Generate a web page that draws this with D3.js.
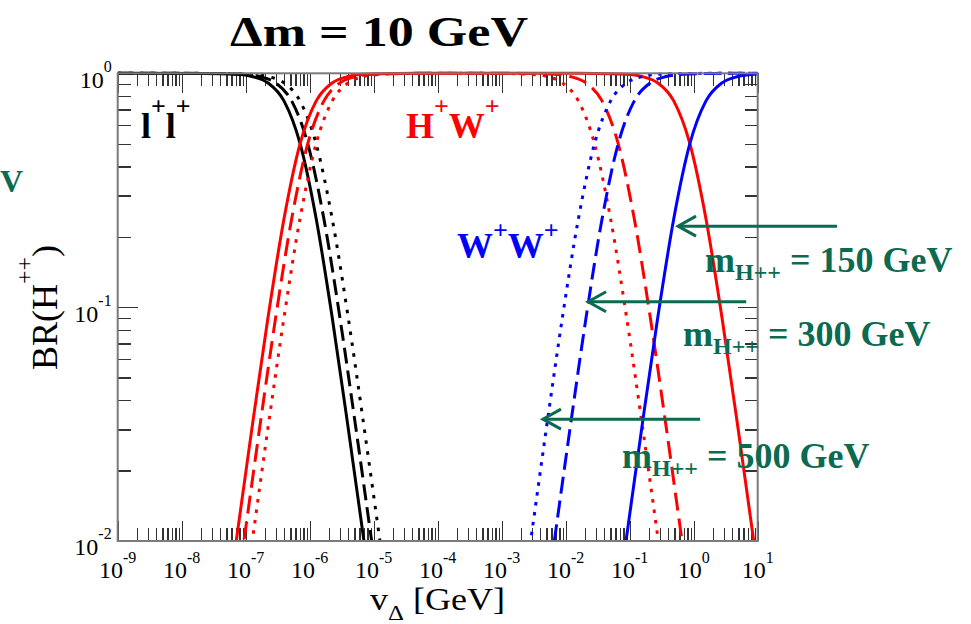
<html lang="en">
<head>
<meta charset="utf-8">
<title>BR(H++) vs v_Delta</title>
<style>
  body { margin: 0; background: white; }
  svg { background: white; font-family: "Liberation Serif", "Times New Roman", serif; }
  .tick line { stroke: #333; stroke-width: 1.3; shape-rendering: crispEdges; }
  .domain { display: none; }
  .curve { fill: none; stroke-width: 3; }
  .green { fill: #0b6a50; font-weight: bold; }
</style>
</head>
<body>
<script src="https://cdnjs.cloudflare.com/ajax/libs/d3/7.8.5/d3.min.js"></script>
<script>
// x tick exponents (v in GeV), y tick exponents (BR)
var xExps = [-9, -8, -7, -6, -5, -4, -3, -2, -1, 0, 1];
var yExps = [-2, -1, 0];

// curves: [log10(v), BR]
// m = 150 GeV (solid)
var llSolid = [[-9,1],[-7.65,0.999],[-7.15,0.99],[-6.9,0.969],[-6.65,0.909],[-6.4,0.76],[-6.15,0.5],[-5.9,0.24],[-5.65,0.0909],[-5.4,0.0306],[-5.15,0.0099],[-5.05,0.0063]];
var hwSolid = [[-7.2,0.0079],[-7.15,0.0099],[-6.9,0.0307],[-6.65,0.0909],[-6.4,0.24],[-6.15,0.5],[-5.9,0.76],[-5.65,0.909],[-5.4,0.969],[-5.15,0.99],[-4.65,0.999],[-4,1],[-2,1],[-1.56,0.999],[-1.06,0.99],[-0.81,0.969],[-0.56,0.909],[-0.31,0.76],[-0.06,0.5],[0.19,0.24],[0.44,0.0909],[0.69,0.0307],[0.94,0.0099],[0.99,0.0079]];
var wwSolid = [[-1.11,0.0079],[-1.06,0.0099],[-0.81,0.0306],[-0.56,0.0909],[-0.31,0.24],[-0.06,0.5],[0.19,0.76],[0.44,0.909],[0.69,0.969],[0.94,0.99],[1,0.992]];
// m = 300 GeV (dashed)
var llDashed = [[-9,1],[-7.53,0.999],[-7.03,0.99],[-6.78,0.969],[-6.53,0.909],[-6.28,0.76],[-6.03,0.5],[-5.78,0.24],[-5.53,0.0909],[-5.28,0.0306],[-5.03,0.0099],[-4.93,0.0063]];
var hwDashed = [[-7.08,0.0079],[-7.03,0.0099],[-6.78,0.0307],[-6.53,0.0909],[-6.28,0.24],[-6.03,0.5],[-5.78,0.76],[-5.53,0.909],[-5.28,0.969],[-5.03,0.99],[-4.53,0.999],[-4,1],[-3,1],[-2.68,0.999],[-2.18,0.99],[-1.93,0.969],[-1.68,0.909],[-1.43,0.76],[-1.18,0.5],[-0.93,0.24],[-0.68,0.0909],[-0.43,0.0307],[-0.18,0.0099],[-0.13,0.0079]];
var wwDashed = [[-2.23,0.0079],[-2.18,0.0099],[-1.93,0.0306],[-1.68,0.0909],[-1.43,0.24],[-1.18,0.5],[-0.93,0.76],[-0.68,0.909],[-0.43,0.969],[-0.18,0.99],[0.32,0.999],[1,1]];
// m = 500 GeV (dotted)
var llDotted = [[-9,1],[-7.4,0.999],[-6.9,0.99],[-6.65,0.969],[-6.4,0.909],[-6.15,0.76],[-5.9,0.5],[-5.65,0.24],[-5.4,0.0909],[-5.15,0.0306],[-4.9,0.0099],[-4.8,0.0063]];
var hwDotted = [[-6.95,0.0079],[-6.9,0.0099],[-6.65,0.0307],[-6.4,0.0909],[-6.15,0.24],[-5.9,0.5],[-5.65,0.76],[-5.4,0.909],[-5.15,0.969],[-4.9,0.99],[-4.4,0.999],[-3.6,1],[-3.05,0.999],[-2.55,0.99],[-2.3,0.969],[-2.05,0.909],[-1.8,0.76],[-1.55,0.5],[-1.3,0.24],[-1.05,0.0909],[-0.8,0.0307],[-0.55,0.0099],[-0.5,0.0079]];
var wwDotted = [[-2.6,0.0079],[-2.55,0.0099],[-2.3,0.0306],[-2.05,0.0909],[-1.8,0.24],[-1.55,0.5],[-1.3,0.76],[-1.05,0.909],[-0.8,0.969],[-0.55,0.99],[-0.05,0.999],[1,1]];

// arrows: tip [log10 v, BR] and tail log10 v
var arrowTips = [[-0.245, 0.222], [-1.65, 0.1054], [-2.355, 0.0332]];
var arrowTails = [2.24, 0.82, 0.10];
var massLabels = ["150", "300", "500"];

var fullwidth = 971, fullheight = 624;
var margin = { top: 73.3, left: 117.7 };
var width = 640, height = 467.7;

var svg = d3.select("body").append("svg")
  .attr("width", fullwidth)
  .attr("height", fullheight);

var g = svg.append("g")
  .attr("transform", "translate(" + margin.left + "," + margin.top + ")");

var x = d3.scaleLog().domain([1e-9, 1e1]).range([0, width]);
var y = d3.scaleLog().domain([1e-2, 1]).range([height, 0]);

// tick values
var xMajor = xExps.map(function(e) { return Math.pow(10, e); });
var yMajor = yExps.map(function(e) { return Math.pow(10, e); });
var xMinor = [], yMinor = [];
xExps.slice(0, -1).forEach(function(e) {
  for (var m = 2; m <= 9; m++) xMinor.push(m * Math.pow(10, e));
});
yExps.slice(0, -1).forEach(function(e) {
  for (var m = 2; m <= 9; m++) yMinor.push(m * Math.pow(10, e));
});

function addAxis(axis, tx, ty) {
  g.append("g")
    .attr("transform", "translate(" + tx + "," + ty + ")")
    .call(axis);
}
[[xMinor, 13], [xMajor, 20]].forEach(function(t) {
  addAxis(d3.axisBottom(x).tickValues(t[0]).tickSize(-t[1]).tickFormat(""), 0, height);
  addAxis(d3.axisTop(x).tickValues(t[0]).tickSize(-t[1]).tickFormat(""), 0, 0);
});
[[yMinor, 13], [yMajor, 20]].forEach(function(t) {
  addAxis(d3.axisLeft(y).tickValues(t[0]).tickSize(-t[1]).tickFormat(""), 0, 0);
  addAxis(d3.axisRight(y).tickValues(t[0]).tickSize(-t[1]).tickFormat(""), width, 0);
});

// tick labels
var xl = g.selectAll(".xlab").data(xExps).enter().append("text")
  .attr("class", "xlab")
  .attr("x", function(d) { return x(Math.pow(10, d)); })
  .attr("y", height + 37)
  .attr("text-anchor", "middle")
  .style("font-size", "24px");
xl.append("tspan").text("10");
xl.append("tspan").attr("dy", -15).style("font-size", "16px").text(function(d) { return String(d); });

var yl = g.selectAll(".ylab").data(yExps).enter().append("text")
  .attr("class", "ylab")
  .attr("x", -6)
  .attr("y", function(d) { return y(Math.pow(10, d)) + 14.5; })
  .attr("text-anchor", "end")
  .style("font-size", "24px");
yl.append("tspan").text("10");
yl.append("tspan").attr("dy", -16).style("font-size", "16px").text(function(d) { return String(d); });

// curves
g.append("clipPath").attr("id", "clip")
  .append("rect").attr("x", 0).attr("y", -3).attr("width", width).attr("height", height + 3);

var line = d3.line()
  .x(function(d) { return x(Math.pow(10, d[0])); })
  .y(function(d) { return y(d[1]); })
  .curve(d3.curveMonotoneX);

var curves = [
  [llSolid, "#000", null], [llDashed, "#000", "16,7"], [llDotted, "#000", "3.5,7.5"],
  [hwSolid, "#ff0000", null], [hwDashed, "#ff0000", "18,8"], [hwDotted, "#ff0000", "3.5,7"],
  [wwSolid, "#0000ff", null], [wwDashed, "#0000ff", "17,7"], [wwDotted, "#0000ff", "3.5,6.5"]
];
var cg = g.append("g").attr("clip-path", "url(#clip)");
curves.forEach(function(c) {
  cg.append("path")
    .attr("class", "curve")
    .attr("d", line(c[0]))
    .attr("stroke", c[1])
    .attr("stroke-dasharray", c[2]);
});

// frame
g.append("rect")
  .attr("width", width).attr("height", height)
  .attr("fill", "none").attr("stroke", "#7a7a7a").attr("stroke-width", 2);

// channel labels
function chanLabel(px, py, color, a, b, sup) {
  var t = svg.append("text").attr("x", px).attr("y", py)
    .attr("fill", color).style("font-weight", "bold").style("font-size", "36px");
  t.append("tspan").text(a);
  t.append("tspan").attr("dy", -sup).style("font-size", "26px").text("+");
  t.append("tspan").attr("dy", sup).text(b);
  t.append("tspan").attr("dy", -sup).style("font-size", "26px").text("+");
}
chanLabel(141, 138, "#000", "l", "l", 23);
chanLabel(406, 138, "#ff0000", "H", "W", 23);
chanLabel(457, 258, "#0000ff", "W", "W", 19);

// arrows
arrowTips.forEach(function(tip, i) {
  var tx = margin.left + x(Math.pow(10, tip[0]));
  var ty = margin.top + y(tip[1]);
  var ex = margin.left + x(Math.pow(10, arrowTails[i]));
  var ag = svg.append("g").attr("stroke", "#0b6a50").attr("stroke-width", 3).attr("fill", "none");
  ag.append("line").attr("x1", tx).attr("y1", ty).attr("x2", ex).attr("y2", ty);
  ag.append("path").attr("d", "M" + (tx + 18) + "," + (ty - 10) + "L" + tx + "," + ty + "L" + (tx + 18) + "," + (ty + 10));
});

// mass labels
var massPos = [[705, 272], [683, 346], [622, 468]];
massLabels.forEach(function(m, i) {
  var t = svg.append("text").attr("class", "green")
    .attr("x", massPos[i][0]).attr("y", massPos[i][1])
    .style("font-size", "36px");
  t.append("tspan").text("m");
  t.append("tspan").attr("dy", 8).style("font-size", "24px").text("H++");
  t.append("tspan").attr("dy", -8).text(" = " + m + " GeV");
});

// left-edge fragment of a label
svg.append("text").attr("class", "green")
  .attr("x", 0).attr("y", 192)
  .style("font-size", "32px").text("V");

// title
svg.append("text")
  .attr("x", 230).attr("y", 46)
  .attr("textLength", 298).attr("lengthAdjust", "spacingAndGlyphs")
  .style("font-size", "42px").style("font-weight", "bold")
  .text("\u0394m = 10 GeV");

// axis titles
var xt = svg.append("text")
  .attr("x", 370).attr("y", 610)
  .attr("textLength", 135).attr("lengthAdjust", "spacingAndGlyphs")
  .style("font-size", "32px");
xt.append("tspan").text("v");
xt.append("tspan").attr("dy", 10).style("font-size", "22px").text("\u0394");
xt.append("tspan").attr("dy", -10).text(" [GeV]");

var yt = svg.append("text")
  .attr("transform", "translate(57,370) rotate(-90)")
  .style("font-size", "36px");
yt.append("tspan").text("BR(H");
yt.append("tspan").attr("dy", -25).style("font-size", "24px").text("++");
yt.append("tspan").attr("dy", 25).text(")");
</script>
</body>
</html>
